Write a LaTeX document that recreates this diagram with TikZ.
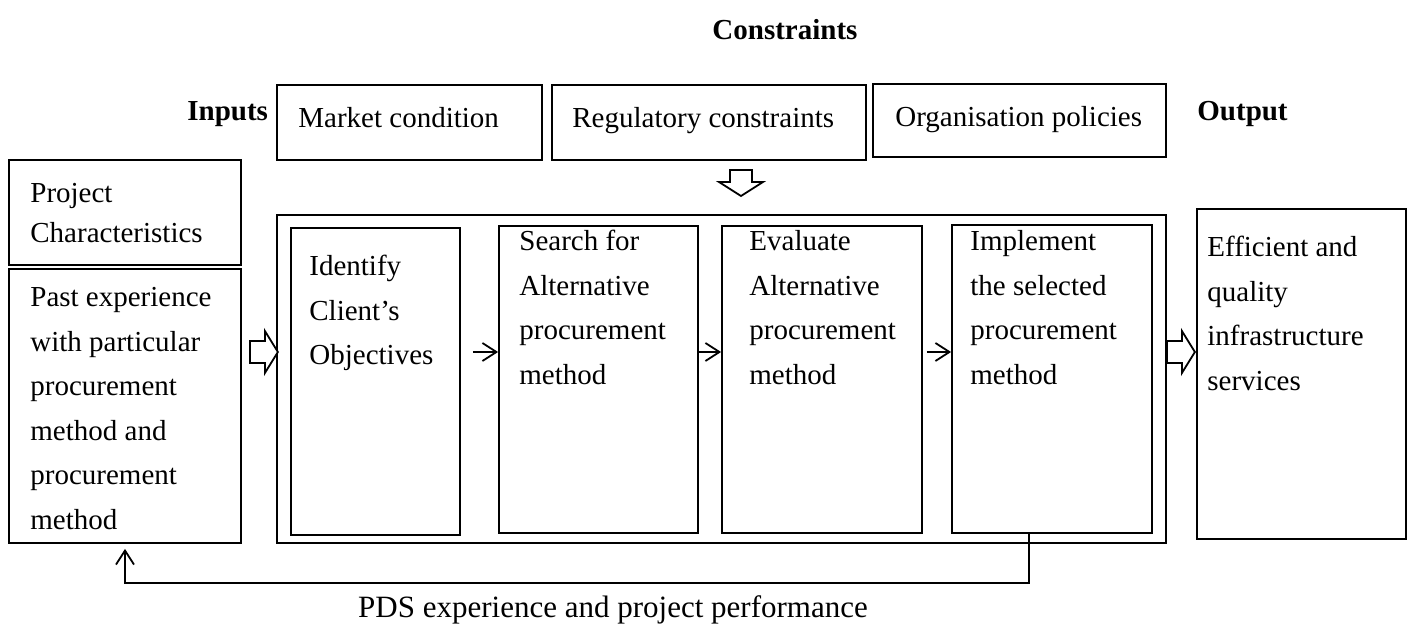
\documentclass[tikz,border=0pt]{standalone}
\usepackage{fontspec}
\setmainfont{Liberation Serif}
\usetikzlibrary{arrows.meta,fit,calc}
\newcommand\boxfont{\fontsize{14.5}{22.3}\selectfont}
\newcommand\pcfont{\fontsize{14.5}{20}\selectfont}
\newcommand\loopfont{\fontsize{15.5}{18}\selectfont}
\begin{document}
\begin{tikzpicture}[x=0.5pt,y=-0.5pt,
  box/.style={draw, line width=0.9pt, inner sep=0pt},
  txt/.style={anchor=north west, inner sep=0pt, align=left, font=\boxfont},
  one/.style={anchor=base west, inner sep=0pt, font=\boxfont},
  head/.style={anchor=base west, inner sep=0pt, font=\boxfont\bfseries},
  arr/.style={line width=0.9pt, -{Straight Barb[length=7pt,width=9pt]}},
  hollow/.style={draw, line width=0.9pt, line join=miter, fill=white},
  rarrow/.pic={\draw[hollow] (0,-11) -- (15,-11) -- (15,-21) -- (28,0)
               -- (15,21) -- (15,11) -- (0,11) -- cycle;},
  darrow/.pic={\draw[hollow] (-11,0) -- (-11,12) -- (-22,12) -- (0,26)
               -- (22,12) -- (11,12) -- (11,0) -- cycle;}]
\useasboundingbox (0,0) rectangle (1410,625);

% headings
\node[anchor=base, inner sep=0pt, font=\boxfont\bfseries] (constraints) at (785,40) {Constraints};
\node[head] (inputs) at (187,121) {Inputs};
\node[head] (output) at (1197,121) {Output};

% constraint boxes
\node[box, fit={(277,85) (542,160)}] (market) {};
\node[box, fit={(552,85) (866,160)}] (regul) {};
\node[box, fit={(873,84) (1166,157)}] (policy) {};
\node[one] (market-t) at (298,128) {Market condition};
\node[one] (regul-t) at (572,128) {Regulatory constraints};
\node[one] (policy-t) at (895,127) {Organisation policies};

% input boxes
\node[box, fit={(9,160) (241,265)}] (project) {};
\node[box, fit={(9,269) (241,543)}] (past) {};
\node[txt, font=\pcfont] (project-t) at (30,202-28) {\strut Project\\Characteristics};
\node[txt] (past-t) at (30,306-31.2) {\strut Past experience\\with particular\\procurement\\method and\\procurement\\method};

% process container and steps
\node[box, fit={(277,215) (1166,543)}] (process) {};
\node[box, fit={(291,228) (460,535)}] (identify) {};
\node[box, fit={(499,226) (698,533)}] (search) {};
\node[box, fit={(722,226) (922,533)}] (evaluate) {};
\node[box, fit={(952,225) (1152,533)}] (implement) {};
\node[txt] (identify-t) at (309,275-31.2) {\strut Identify\\Client’s\\Objectives};
\node[txt] (search-t) at (519,250-31.2) {\strut Search for\\Alternative\\procurement\\method};
\node[txt] (evaluate-t) at (749,250-31.2) {\strut Evaluate\\Alternative\\procurement\\method};
\node[txt] (implement-t) at (970,250-31.2) {\strut Implement\\the selected\\procurement\\method};

% output box
\node[box, fit={(1197,209) (1406,539)}] (result) {};
\node[txt] (result-t) at (1207,256-31.2) {\strut Efficient and\\quality\\infrastructure\\services};

% flow between steps
\coordinate (ay) at (0,352);
\draw[arr] ([xshift=6pt]identify.east |- ay) -- (search.west |- ay);
\draw[arr] (search.east |- ay) -- (evaluate.west |- ay);
\draw[arr] ([xshift=2pt]evaluate.east |- ay) -- (implement.west |- ay);

% block arrows
\pic at ([xshift=4pt]past.east |- ay) {rarrow};
\pic at (process.east |- ay) {rarrow};
\pic at (741,170) {darrow};

% feedback loop
\coordinate (fb) at (1029,583);
\draw[arr] (implement.south -| fb) -- (fb) -| ([yshift=-2.5pt]past.south);
\node[anchor=base, inner sep=0pt, font=\loopfont] (fb-t) at (613,618) {PDS experience and project performance};
\end{tikzpicture}
\end{document}
